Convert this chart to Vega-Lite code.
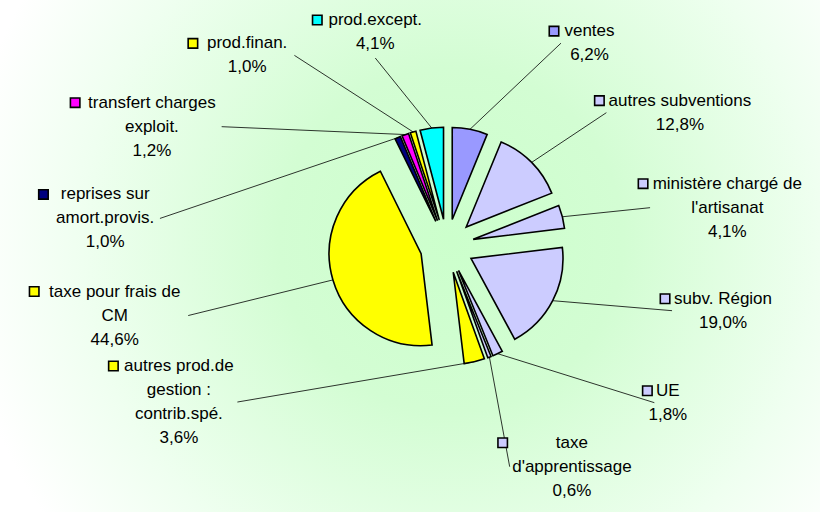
{
  "$schema": "https://vega.github.io/schema/vega-lite/v6.json",
  "width": 820,
  "height": 512,
  "autosize": {"type": "none"},
  "padding": 0,
  "config": {
    "view": {
      "stroke": null,
      "fill": {"gradient": "radial", "x1": 0.55, "y1": 0.48, "x2": 0.55, "y2": 0.48, "r1": 0, "r2": 0.6,
        "stops": [{"offset": 0, "color": "#ccffcc"}, {"offset": 0.35, "color": "#d3fdd3"}, {"offset": 0.75, "color": "#effff0"}, {"offset": 1, "color": "#ffffff"}]}
    }
  },
  "data": {
    "values": [
      {"ord": 1, "cat": "ventes", "pct": 6.2},
      {"ord": 2, "cat": "autres subventions", "pct": 12.8},
      {"ord": 3, "cat": "ministère chargé de\nl'artisanat", "pct": 4.1},
      {"ord": 4, "cat": "subv. Région", "pct": 19.0},
      {"ord": 5, "cat": "UE", "pct": 1.8},
      {"ord": 6, "cat": "taxe\nd'apprentissage", "pct": 0.6},
      {"ord": 7, "cat": "autres prod.de\ngestion :\ncontrib.spé.", "pct": 3.6},
      {"ord": 8, "cat": "taxe pour frais de\nCM", "pct": 44.6},
      {"ord": 9, "cat": "reprises sur\namort.provis.", "pct": 1.0},
      {"ord": 10, "cat": "transfert charges\nexploit.", "pct": 1.2},
      {"ord": 11, "cat": "prod.finan.", "pct": 1.0},
      {"ord": 12, "cat": "prod.except.", "pct": 4.1}
    ]
  },
  "transform": [
    {"window": [{"op": "sum", "field": "pct", "as": "cum"}], "sort": [{"field": "ord", "order": "ascending"}], "frame": [null, 0]},
    {"calculate": "datum.cum - datum.pct", "as": "s0"},
    {"calculate": "(datum.s0 + datum.pct / 2) * PI / 50", "as": "a"},
    {"calculate": "27 * sin(datum.a)", "as": "ex"},
    {"calculate": "27 * cos(datum.a)", "as": "ey"},
    {"calculate": "datum.ex + 92 * sin(datum.a)", "as": "edx"},
    {"calculate": "datum.ey + 92 * cos(datum.a)", "as": "edy"},
    {"calculate": "(datum.ord <= 6 ? 30 + (datum.ord - 1) * 24.8 : 231 + (datum.ord - 7) * 23.4) * PI / 180", "as": "la"},
    {"calculate": "(sin(datum.la) > 0 ? 285 : 345) * sin(datum.la)", "as": "lx"},
    {"calculate": "min(240 * cos(datum.la) - 5, 214)", "as": "ly"},
    {"calculate": "datum.cat + '\\n' + replace(format(datum.pct, '.1f'), '.', ',') + '%'", "as": "label"},
    {"calculate": "length(split(datum.label, '\\n'))", "as": "nl"},
    {"calculate": "datum.ly + (datum.nl - 1) * 12", "as": "ty"},
    {"calculate": "7.5 * max(length(split(datum.cat + '\\n\\n\\n', '\\n')[0]), length(split(datum.cat + '\\n\\n\\n', '\\n')[1]), length(split(datum.cat + '\\n\\n\\n', '\\n')[2]))", "as": "w"},
    {"calculate": "datum.lx - datum.w / 2 - 13", "as": "sqx"},
    {"calculate": "sin(datum.la) > 0.3 ? datum.lx - datum.w / 2 - 6 : (sin(datum.la) < -0.3 ? datum.lx + datum.w / 2 + 6 : datum.lx)", "as": "endx"},
    {"calculate": "abs(sin(datum.la)) > 0.3 ? datum.ly : datum.ly - datum.nl * 12 - 2", "as": "endy"}
  ],
  "layer": [
    {
      "mark": {"type": "rule", "stroke": "#000000", "strokeWidth": 0.8},
      "encoding": {
        "x": {"field": "edx", "type": "quantitative", "scale": {"domain": [-447, 373], "nice": false, "zero": false}, "axis": null},
        "y": {"field": "edy", "type": "quantitative", "scale": {"domain": [-266, 246], "nice": false, "zero": false}, "axis": null},
        "x2": {"field": "endx"},
        "y2": {"field": "endy"}
      }
    },
    {
      "mark": {"type": "arc", "radius": 92, "stroke": "#000000", "strokeWidth": 1.6, "strokeJoin": "miter"},
      "encoding": {
        "theta": {"field": "s0", "type": "quantitative", "scale": {"domain": [0, 100]}, "stack": null},
        "theta2": {"field": "cum"},
        "x": {"field": "ex", "type": "quantitative", "scale": {"domain": [-447, 373], "nice": false, "zero": false}, "axis": null},
        "y": {"field": "ey", "type": "quantitative", "scale": {"domain": [-266, 246], "nice": false, "zero": false}, "axis": null},
        "color": {"field": "ord", "type": "nominal", "legend": null,
          "scale": {"domain": [1, 2, 3, 4, 5, 6, 7, 8, 9, 10, 11, 12],
            "range": ["#9999ff", "#ccccff", "#ccccff", "#ccccff", "#ccccff", "#ccccff", "#ffff00", "#ffff00", "#000080", "#ff00ff", "#ffff00", "#00ffff"]}}
      }
    },
    {
      "mark": {"type": "text", "align": "center", "baseline": "middle", "lineBreak": "\n", "lineHeight": 24, "font": "Liberation Sans", "fontSize": 17, "fill": "#000000"},
      "encoding": {
        "x": {"field": "lx", "type": "quantitative", "scale": {"domain": [-447, 373], "nice": false, "zero": false}, "axis": null},
        "y": {"field": "ty", "type": "quantitative", "scale": {"domain": [-266, 246], "nice": false, "zero": false}, "axis": null},
        "text": {"field": "label"}
      }
    },
    {
      "mark": {"type": "square", "size": 90, "filled": true, "opacity": 1, "stroke": "#000000", "strokeWidth": 1.6},
      "encoding": {
        "x": {"field": "sqx", "type": "quantitative", "scale": {"domain": [-447, 373], "nice": false, "zero": false}, "axis": null},
        "y": {"field": "ty", "type": "quantitative", "scale": {"domain": [-266, 246], "nice": false, "zero": false}, "axis": null},
        "color": {"field": "ord", "type": "nominal", "legend": null,
          "scale": {"domain": [1, 2, 3, 4, 5, 6, 7, 8, 9, 10, 11, 12],
            "range": ["#9999ff", "#ccccff", "#ccccff", "#ccccff", "#ccccff", "#ccccff", "#ffff00", "#ffff00", "#000080", "#ff00ff", "#ffff00", "#00ffff"]}}
      }
    }
  ]
}
